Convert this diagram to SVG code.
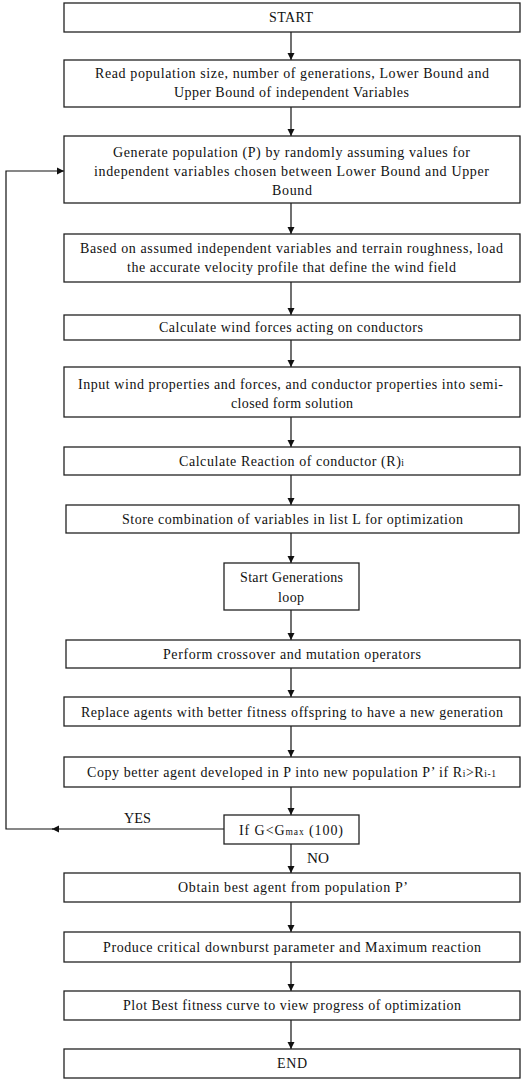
<svg xmlns="http://www.w3.org/2000/svg" width="529" height="1080" viewBox="0 0 529 1080">
<style>
rect{fill:#fff;stroke:#222;stroke-width:1.3}
text{font-family:"Liberation Serif","Times New Roman",serif;font-size:14px;fill:#111}
.c{stroke:#111;stroke-width:1.2;fill:none}
.s{font-size:9.5px}
</style>
<defs>
<marker id="ah" viewBox="0 0 10 10" refX="10" refY="5" markerWidth="7" markerHeight="8" markerUnits="userSpaceOnUse" orient="auto"><path d="M0,0L10,5L0,10z" fill="#111"/></marker>
</defs>
<rect x="0" y="0" width="529" height="1080" style="fill:#fff;stroke:none"/>
<g id="connectors">
<line class="c" x1="291" y1="32" x2="291" y2="60" marker-end="url(#ah)"/>
<line class="c" x1="291" y1="107" x2="291" y2="136" marker-end="url(#ah)"/>
<line class="c" x1="291" y1="203" x2="291" y2="234" marker-end="url(#ah)"/>
<line class="c" x1="291" y1="282" x2="291" y2="315" marker-end="url(#ah)"/>
<line class="c" x1="291" y1="340" x2="291" y2="367" marker-end="url(#ah)"/>
<line class="c" x1="291" y1="417" x2="291" y2="447" marker-end="url(#ah)"/>
<line class="c" x1="291" y1="475" x2="291" y2="505" marker-end="url(#ah)"/>
<line class="c" x1="291" y1="533" x2="291" y2="563" marker-end="url(#ah)"/>
<line class="c" x1="291" y1="610" x2="291" y2="640" marker-end="url(#ah)"/>
<line class="c" x1="291" y1="668" x2="291" y2="697" marker-end="url(#ah)"/>
<line class="c" x1="291" y1="726" x2="291" y2="757" marker-end="url(#ah)"/>
<line class="c" x1="291" y1="787" x2="291" y2="815" marker-end="url(#ah)"/>
<line class="c" x1="291" y1="844" x2="291" y2="873" marker-end="url(#ah)"/>
<line class="c" x1="291" y1="902" x2="291" y2="932" marker-end="url(#ah)"/>
<line class="c" x1="291" y1="962" x2="291" y2="991" marker-end="url(#ah)"/>
<line class="c" x1="291" y1="1020" x2="291" y2="1049" marker-end="url(#ah)"/>
<line class="c" x1="224" y1="829" x2="52" y2="829" marker-end="url(#ah)"/>
<path class="c" d="M53,829H6V171H64" marker-end="url(#ah)"/>
<text x="124" y="823" textLength="27" lengthAdjust="spacingAndGlyphs">YES</text>
<text x="307" y="863" textLength="22" lengthAdjust="spacingAndGlyphs">NO</text>
</g>
<g id="n1"><rect x="64" y="3" width="456" height="29"/><text x="269" y="22" textLength="44">START</text></g>
<g id="n2"><rect x="64" y="60" width="456" height="47"/><text x="95" y="78" textLength="394">Read population size, number of generations, Lower Bound and</text><text x="174" y="97" textLength="235">Upper Bound of independent Variables</text></g>
<g id="n3"><rect x="64" y="136" width="456" height="67"/><text x="113" y="157" textLength="357">Generate population (P) by randomly assuming values for</text><text x="94" y="176" textLength="395">independent variables chosen between Lower Bound and Upper</text><text x="272" y="195" textLength="40">Bound</text></g>
<g id="n4"><rect x="64" y="234" width="456" height="48"/><text x="80" y="253" textLength="423">Based on assumed independent variables and terrain roughness, load</text><text x="127" y="272" textLength="329">the accurate velocity profile that define the wind field</text></g>
<g id="n5"><rect x="64" y="315" width="456" height="25"/><text x="159" y="332" textLength="264">Calculate wind forces acting on conductors</text></g>
<g id="n6"><rect x="64" y="367" width="456" height="50"/><text x="78" y="389" textLength="425">Input wind properties and forces, and conductor properties into semi-</text><text x="231" y="408" textLength="122">closed form solution</text></g>
<g id="n7"><rect x="64" y="447" width="456" height="28"/><text x="179" y="466" textLength="225">Calculate Reaction of conductor (R)<tspan class="s">i</tspan></text></g>
<g id="n8"><rect x="66" y="505" width="453" height="28"/><text x="122" y="524" textLength="341">Store combination of variables in list L for optimization</text></g>
<g id="n9"><rect x="224" y="563" width="135" height="47"/><text x="240" y="582" textLength="103">Start Generations</text><text x="278" y="602" textLength="26">loop</text></g>
<g id="n10"><rect x="66" y="640" width="454" height="28"/><text x="163" y="659" textLength="258">Perform crossover and mutation operators</text></g>
<g id="n11"><rect x="64" y="697" width="456" height="29"/><text x="81" y="717" textLength="422">Replace agents with better fitness offspring to have a new generation</text></g>
<g id="n12"><rect x="64" y="757" width="456" height="30"/><text x="87" y="777" textLength="409">Copy better agent developed in P into new population P’ if R<tspan class="s">i</tspan>&gt;R<tspan class="s">i-1</tspan></text></g>
<g id="n13"><rect x="224" y="815" width="135" height="29"/><text x="239" y="835" textLength="104">If G&lt;G<tspan class="s">max</tspan> (100)</text></g>
<g id="n14"><rect x="64" y="873" width="456" height="29"/><text x="178" y="892" textLength="230">Obtain best agent from population P’</text></g>
<g id="n15"><rect x="64" y="932" width="456" height="30"/><text x="103" y="952" textLength="378">Produce critical downburst parameter and Maximum reaction</text></g>
<g id="n16"><rect x="64" y="991" width="456" height="29"/><text x="123" y="1010" textLength="338">Plot Best fitness curve to view progress of optimization</text></g>
<g id="n17"><rect x="64" y="1049" width="456" height="29"/><text x="277" y="1068" textLength="30">END</text></g>
</svg>
